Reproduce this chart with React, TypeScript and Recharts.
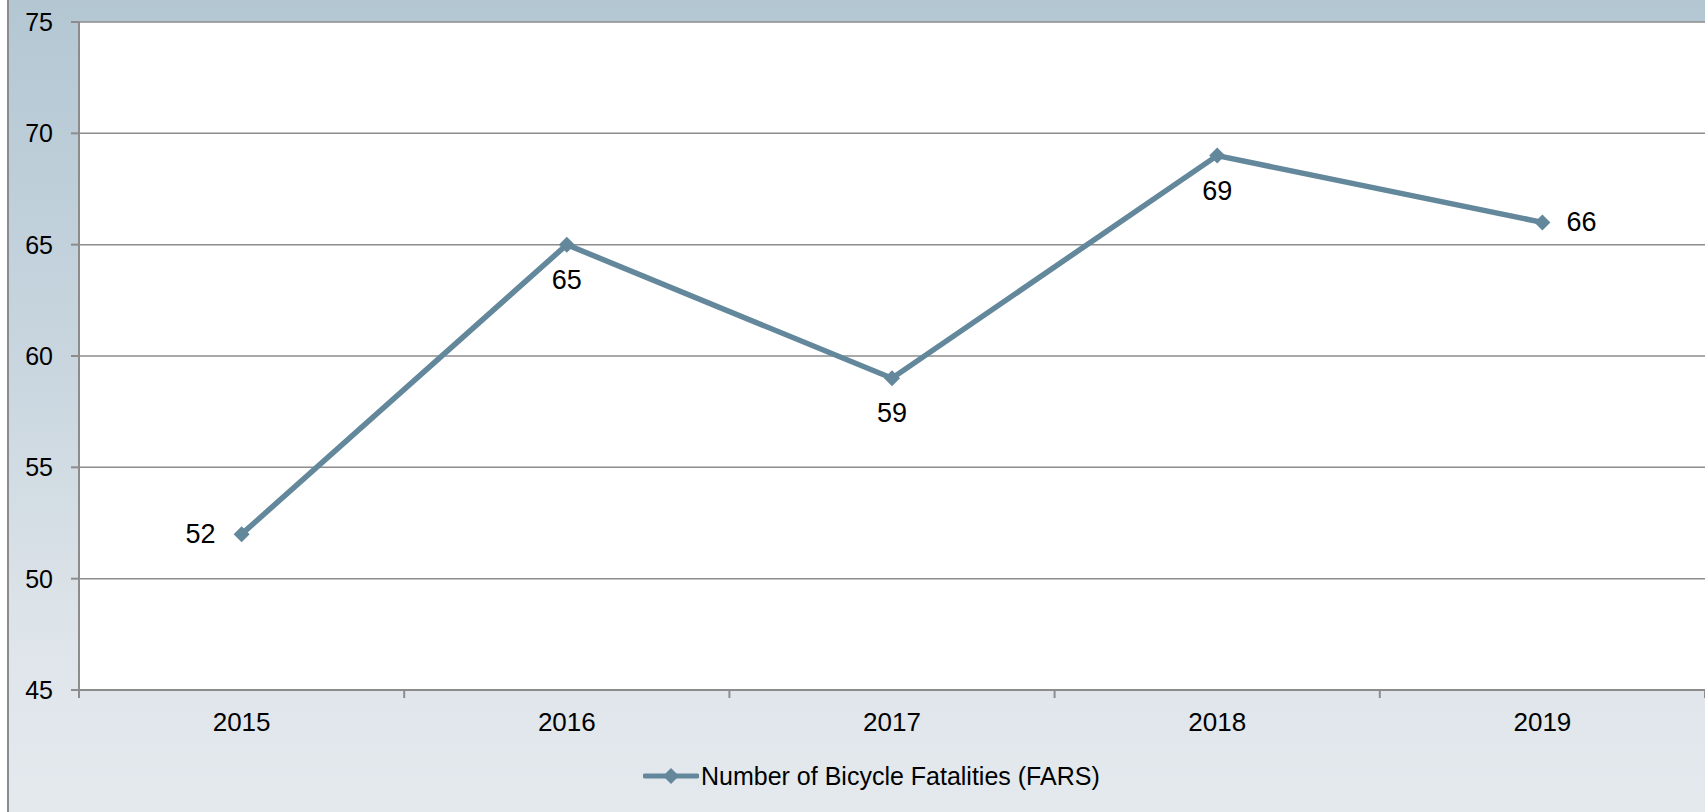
import React from 'react';
import { LineChart, Line, XAxis, YAxis, CartesianGrid, Legend, LabelList } from 'recharts';

const categories = ['2015', '2016', '2017', '2018', '2019'];
const fatalities = [52, 65, 59, 69, 66];
const yTicks = [45, 50, 55, 60, 65, 70, 75];
const seriesName = 'Number of Bicycle Fatalities (FARS)';

const data = categories.map((c, i) => ({ x: i + 0.5, year: c, value: fatalities[i] }));
const xTicks: number[] = [];
for (let i = 0; i <= categories.length * 2; i++) xTicks.push(i / 2);

const FONT = '"Liberation Sans", Arial, sans-serif';
const LINE_COLOR = '#63879b';
const AXIS_COLOR = '#8c8c8c';

const XTick = (props: any) => {
  const { x, y, payload } = props;
  const v = payload.value;
  if (Number.isInteger(v)) {
    return <line x1={x} y1={y} x2={x} y2={y + 8} stroke={AXIS_COLOR} strokeWidth={2} />;
  }
  const label = categories[Math.floor(v)];
  return (
    <text x={x} y={y + 32} textAnchor="middle" dominantBaseline="central" fontSize={26} fontFamily={FONT} fill="#000">
      {label}
    </text>
  );
};

const Diamond = (props: any) => {
  const { cx, cy } = props;
  if (cx == null || cy == null) return null;
  const r = 8;
  return <polygon points={`${cx},${cy - r} ${cx + r},${cy} ${cx},${cy + r} ${cx - r},${cy}`} fill={LINE_COLOR} />;
};

const placement = (i: number, n: number) => (i === 0 ? 'left' : i === n - 1 ? 'right' : 'bottom');

const DataLabel = (props: any) => {
  const { x, y, value, index } = props;
  const p = placement(index, categories.length);
  let tx = x, ty = y, anchor: any = 'middle';
  if (p === 'left') { tx = x - 26; anchor = 'end'; }
  else if (p === 'right') { tx = x + 24; anchor = 'start'; }
  else { ty = y + 35; }
  return (
    <text x={tx} y={ty} textAnchor={anchor} dominantBaseline="central" fontSize={27} fontFamily={FONT} fill="#000">
      {value}
    </text>
  );
};

const LegendContent = () => (
  <div style={{ display: 'flex', alignItems: 'center', fontFamily: FONT, fontSize: 25, color: '#000', whiteSpace: 'nowrap', height: 40 }}>
    <svg width={56} height={20} style={{ display: 'block' }}>
      <line x1={2} y1={10} x2={54} y2={10} stroke={LINE_COLOR} strokeWidth={5} strokeLinecap="round" />
      <polygon points="28,2 36,10 28,18 20,10" fill={LINE_COLOR} />
    </svg>
    <span style={{ marginLeft: 2 }}>{seriesName}</span>
  </div>
);

export default function App() {
  return (
    <div style={{ position: 'absolute', left: 0, top: 0, width: 1705, height: 812, overflow: 'hidden' }}>
      <div
        style={{
          position: 'absolute', left: 7, top: 0, width: 1698, height: 812,
          borderLeft: `2px solid ${AXIS_COLOR}`, boxSizing: 'border-box',
          background: 'linear-gradient(to bottom, #b3c7d3 0%, #c9d6df 45%, #dfe5ea 80%, #e4e9ee 100%)',
        }}
      />
      <LineChart
        width={1705}
        height={812}
        data={data}
        margin={{ top: 22, right: 0, left: 0, bottom: 32 }}
        style={{ position: 'absolute', left: 0, top: 0 }}
      >
        <CartesianGrid vertical={false} stroke={AXIS_COLOR} strokeWidth={1.5} fill="#ffffff" fillOpacity={1} />
        <XAxis
          type="number"
          dataKey="x"
          domain={[0, categories.length]}
          ticks={xTicks}
          interval={0}
          allowDecimals
          tickSize={0}
          tickMargin={0}
          tick={<XTick />}
          tickLine={false}
          axisLine={{ stroke: AXIS_COLOR, strokeWidth: 2 }}
          height={50}
        />
        <YAxis
          domain={[45, 75]}
          ticks={yTicks}
          interval={0}
          width={79}
          tickSize={8}
          tickMargin={18}
          tick={{ fontSize: 25, fontFamily: FONT, fill: '#000' }}
          tickLine={{ stroke: AXIS_COLOR, strokeWidth: 2 }}
          axisLine={{ stroke: AXIS_COLOR, strokeWidth: 2 }}
        />
        <Legend
          verticalAlign="bottom"
          content={<LegendContent />}
          wrapperStyle={{ top: 756, bottom: 'auto', left: 643, width: 'auto', height: 40 }}
        />
        <Line
          type="linear"
          dataKey="value"
          name={seriesName}
          stroke={LINE_COLOR}
          strokeWidth={5.5}
          dot={<Diamond />}
          activeDot={false}
          isAnimationActive={false}
        >
          <LabelList dataKey="value" content={<DataLabel />} />
        </Line>
      </LineChart>
    </div>
  );
}
